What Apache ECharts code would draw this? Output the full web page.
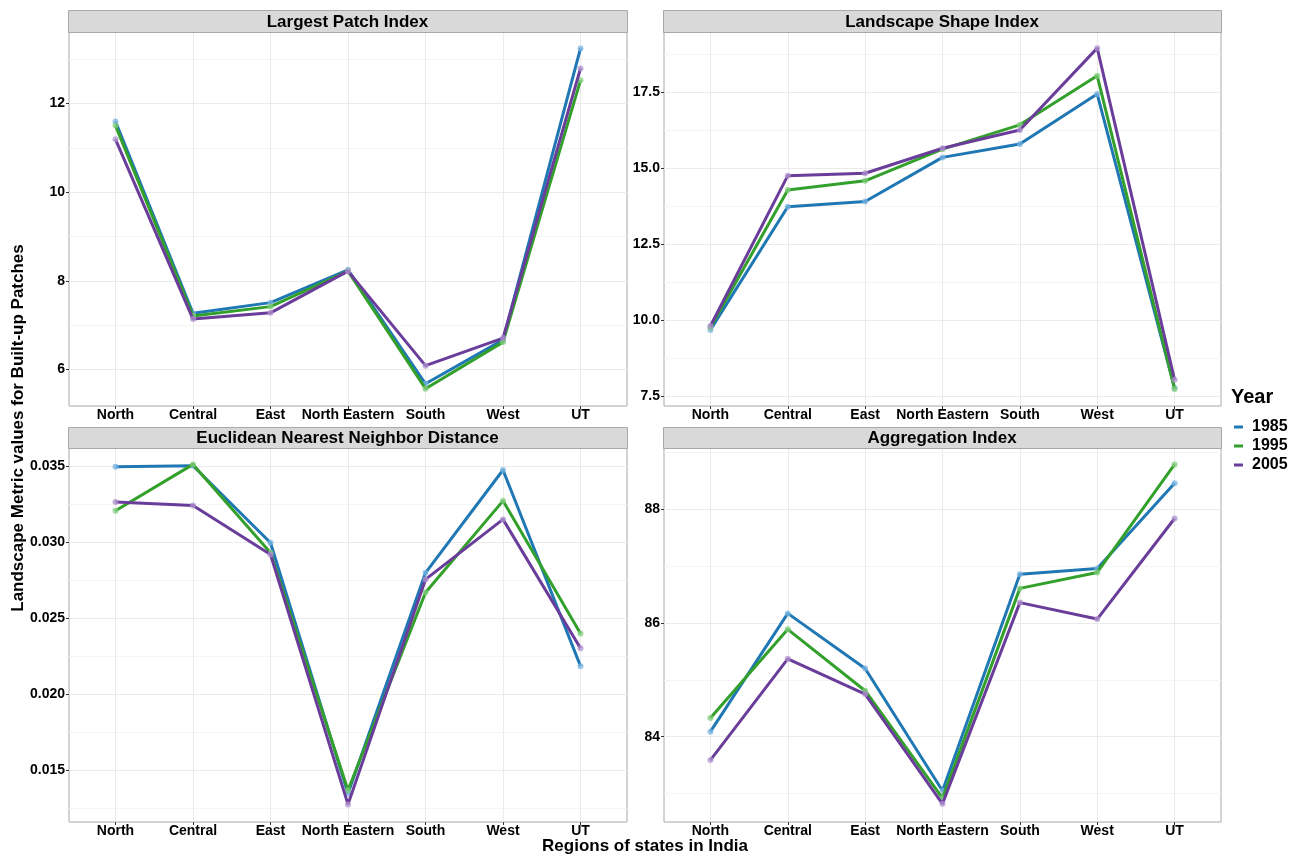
<!DOCTYPE html>
<html>
<head>
<meta charset="utf-8">
<title>Landscape metrics of built-up patches</title>
<script src="https://cdn.jsdelivr.net/npm/echarts@6/dist/echarts.min.js"></script>
<style>
  html, body { margin: 0; padding: 0; background: #ffffff; }
  #chart { width: 1304px; height: 856px; }
</style>
</head>
<body>
<div id="chart"></div>
<script>
// Regions along the x axis
const categories = ['North', 'Central', 'East', 'North Eastern', 'South', 'West', 'UT'];
const years = ['1985', '1995', '2005'];

// Largest Patch Index
const lpi1985 = [11.59, 7.27, 7.51, 8.25, 5.68, 6.67, 13.24];
const lpi1995 = [11.50, 7.21, 7.42, 8.22, 5.57, 6.62, 12.52];
const lpi2005 = [11.19, 7.14, 7.28, 8.22, 6.09, 6.71, 12.79];
const lpiTicks = [6, 8, 10, 12];
const lpiMinor = [5, 7, 9, 11, 13];

// Landscape Shape Index
const lsi1985 = [9.69, 13.74, 13.91, 15.36, 15.80, 17.44, 7.78];
const lsi1995 = [9.77, 14.29, 14.59, 15.63, 16.43, 18.04, 7.75];
const lsi2005 = [9.82, 14.76, 14.84, 15.66, 16.26, 18.95, 8.05];
const lsiTicks = [7.5, 10.0, 12.5, 15.0, 17.5];
const lsiMinor = [8.75, 11.25, 13.75, 16.25, 18.75];

// Euclidean Nearest Neighbor Distance
const enn1985 = [0.03496, 0.03502, 0.02995, 0.01345, 0.02797, 0.03474, 0.02183];
const enn1995 = [0.03206, 0.03511, 0.02929, 0.01366, 0.02668, 0.03271, 0.02398];
const enn2005 = [0.03263, 0.03241, 0.02918, 0.01273, 0.02754, 0.03149, 0.02301];
const ennTicks = [0.015, 0.020, 0.025, 0.030, 0.035];
const ennMinor = [0.0125, 0.0175, 0.0225, 0.0275, 0.0325];

// Aggregation Index
const ai1985 = [84.09, 86.17, 85.20, 83.05, 86.86, 86.96, 88.46];
const ai1995 = [84.33, 85.89, 84.81, 82.92, 86.61, 86.89, 88.79];
const ai2005 = [83.59, 85.37, 84.75, 82.82, 86.36, 86.07, 87.84];
const aiTicks = [84, 86, 88];
const aiMinor = [83, 85, 87, 89];

const colors = ['#1F78B4', '#33A02C', '#6A3D9A'];
const pointColors = ['rgba(120,180,225,0.75)', 'rgba(130,205,125,0.75)', 'rgba(175,145,205,0.75)'];
const FONT = '"Liberation Sans", Arial, sans-serif';

const panels = [
  { title: 'Largest Patch Index', series: [lpi1985, lpi1995, lpi2005], ticks: lpiTicks, minor: lpiMinor,
    min: 5.18, max: 13.61, digits: 0, grid: { left: 69, top: 32, width: 558, height: 374 } },
  { title: 'Landscape Shape Index', series: [lsi1985, lsi1995, lsi2005], ticks: lsiTicks, minor: lsiMinor,
    min: 7.19, max: 19.48, digits: 1, grid: { left: 664, top: 32, width: 557, height: 374 } },
  { title: 'Euclidean Nearest Neighbor Distance', series: [enn1985, enn1995, enn2005], ticks: ennTicks, minor: ennMinor,
    min: 0.01157, max: 0.03619, digits: 3, grid: { left: 69, top: 448, width: 558, height: 374 } },
  { title: 'Aggregation Index', series: [ai1985, ai1995, ai2005], ticks: aiTicks, minor: aiMinor,
    min: 82.50, max: 89.08, digits: 0, grid: { left: 664, top: 448, width: 557, height: 374 } }
];

const catIndex = categories.map((_, i) => i);
const grids = [], xAxes = [], yAxes = [], series = [], graphics = [];

panels.forEach((p, k) => {
  grids.push(Object.assign({ show: true, borderColor: '#a8a8a8', borderWidth: 1, backgroundColor: '#ffffff' }, p.grid));

  // discrete x scale with 0.6 padding on each side of the outer categories
  xAxes.push({
    type: 'value', gridIndex: k, position: 'bottom', min: -0.6, max: categories.length - 0.4,
    axisLine: { show: false },
    axisTick: { show: true, length: 3, customValues: catIndex, lineStyle: { color: '#333333' } },
    axisLabel: {
      customValues: catIndex, margin: 2,
      formatter: v => categories[Math.round(v)] || '',
      color: '#000000', fontFamily: FONT, fontWeight: 'bold', fontSize: 14
    },
    splitLine: { show: true, lineStyle: { color: '#ebebeb', width: 1 } }
  });

  // minor grid lines
  yAxes.push({
    type: 'value', gridIndex: k, position: 'left', min: p.min, max: p.max,
    axisLine: { show: false },
    axisTick: { show: false, customValues: p.minor },
    axisLabel: { show: false, customValues: p.minor },
    splitLine: { show: true, lineStyle: { color: '#f4f4f4', width: 1 } }
  });
  // major ticks, labels and grid lines
  yAxes.push({
    type: 'value', gridIndex: k, position: 'left', offset: 0, min: p.min, max: p.max,
    axisLine: { show: false },
    axisTick: { show: true, length: 3, customValues: p.ticks, lineStyle: { color: '#333333' } },
    axisLabel: {
      customValues: p.ticks, margin: 4,
      formatter: v => Number(v).toFixed(p.digits),
      color: '#000000', fontFamily: FONT, fontWeight: 'bold', fontSize: 14
    },
    splitLine: { show: true, lineStyle: { color: '#ebebeb', width: 1 } }
  });

  p.series.forEach((vals, s) => {
    series.push({
      type: 'line', name: years[s], xAxisIndex: k, yAxisIndex: 2 * k + 1,
      data: vals.map((v, i) => [i, v]),
      symbol: 'circle', symbolSize: 6, showSymbol: true,
      lineStyle: { color: colors[s], width: 3 },
      itemStyle: { color: pointColors[s], borderColor: pointColors[s], borderWidth: 0 },
      emphasis: { disabled: true },
      z: 3 + s
    });
  });

  // facet strip
  const sx = p.grid.left - 1, sw = p.grid.width + 1;
  const sy = k < 2 ? 10 : 427, sh = k < 2 ? 22 : 21;
  graphics.push({
    type: 'rect', left: sx, top: sy,
    shape: { width: sw, height: sh },
    style: { fill: '#d9d9d9', stroke: '#a8a8a8', lineWidth: 1 }, z: 10
  });
  graphics.push({
    type: 'text', x: sx + sw / 2, y: sy + sh / 2 + 1,
    style: { text: p.title, fill: '#000000', font: 'bold 17px ' + FONT, align: 'center', verticalAlign: 'middle' },
    z: 11
  });
});

// axis titles
graphics.push({
  type: 'text', x: 645, y: 846,
  style: { text: 'Regions of states in India', fill: '#000000', font: 'bold 17px ' + FONT, align: 'center', verticalAlign: 'middle' }
});
graphics.push({
  type: 'text', x: 18, y: 428, rotation: Math.PI / 2,
  style: { text: 'Landscape Metric values for Built-up Patches', fill: '#000000', font: 'bold 17px ' + FONT, align: 'center', verticalAlign: 'middle' }
});
// legend title
graphics.push({
  type: 'text', x: 1231, y: 397,
  style: { text: 'Year', fill: '#000000', font: 'bold 20px ' + FONT, align: 'left', verticalAlign: 'middle' }
});

const chart = echarts.init(document.getElementById('chart'), null, { renderer: 'canvas' });
chart.setOption({
  animation: false,
  backgroundColor: '#ffffff',
  grid: grids,
  xAxis: xAxes,
  yAxis: yAxes,
  series: series,
  legend: {
    orient: 'vertical', left: 1229, top: 414,
    itemWidth: 9, itemHeight: 3, itemGap: 3, icon: 'rect',
    data: years.map((y, i) => ({ name: y, itemStyle: { color: colors[i] } })),
    textStyle: { color: '#000000', fontFamily: FONT, fontWeight: 'bold', fontSize: 16, padding: [0, 0, 0, 4] },
    selectedMode: false
  },
  graphic: graphics
});
</script>
</body>
</html>
